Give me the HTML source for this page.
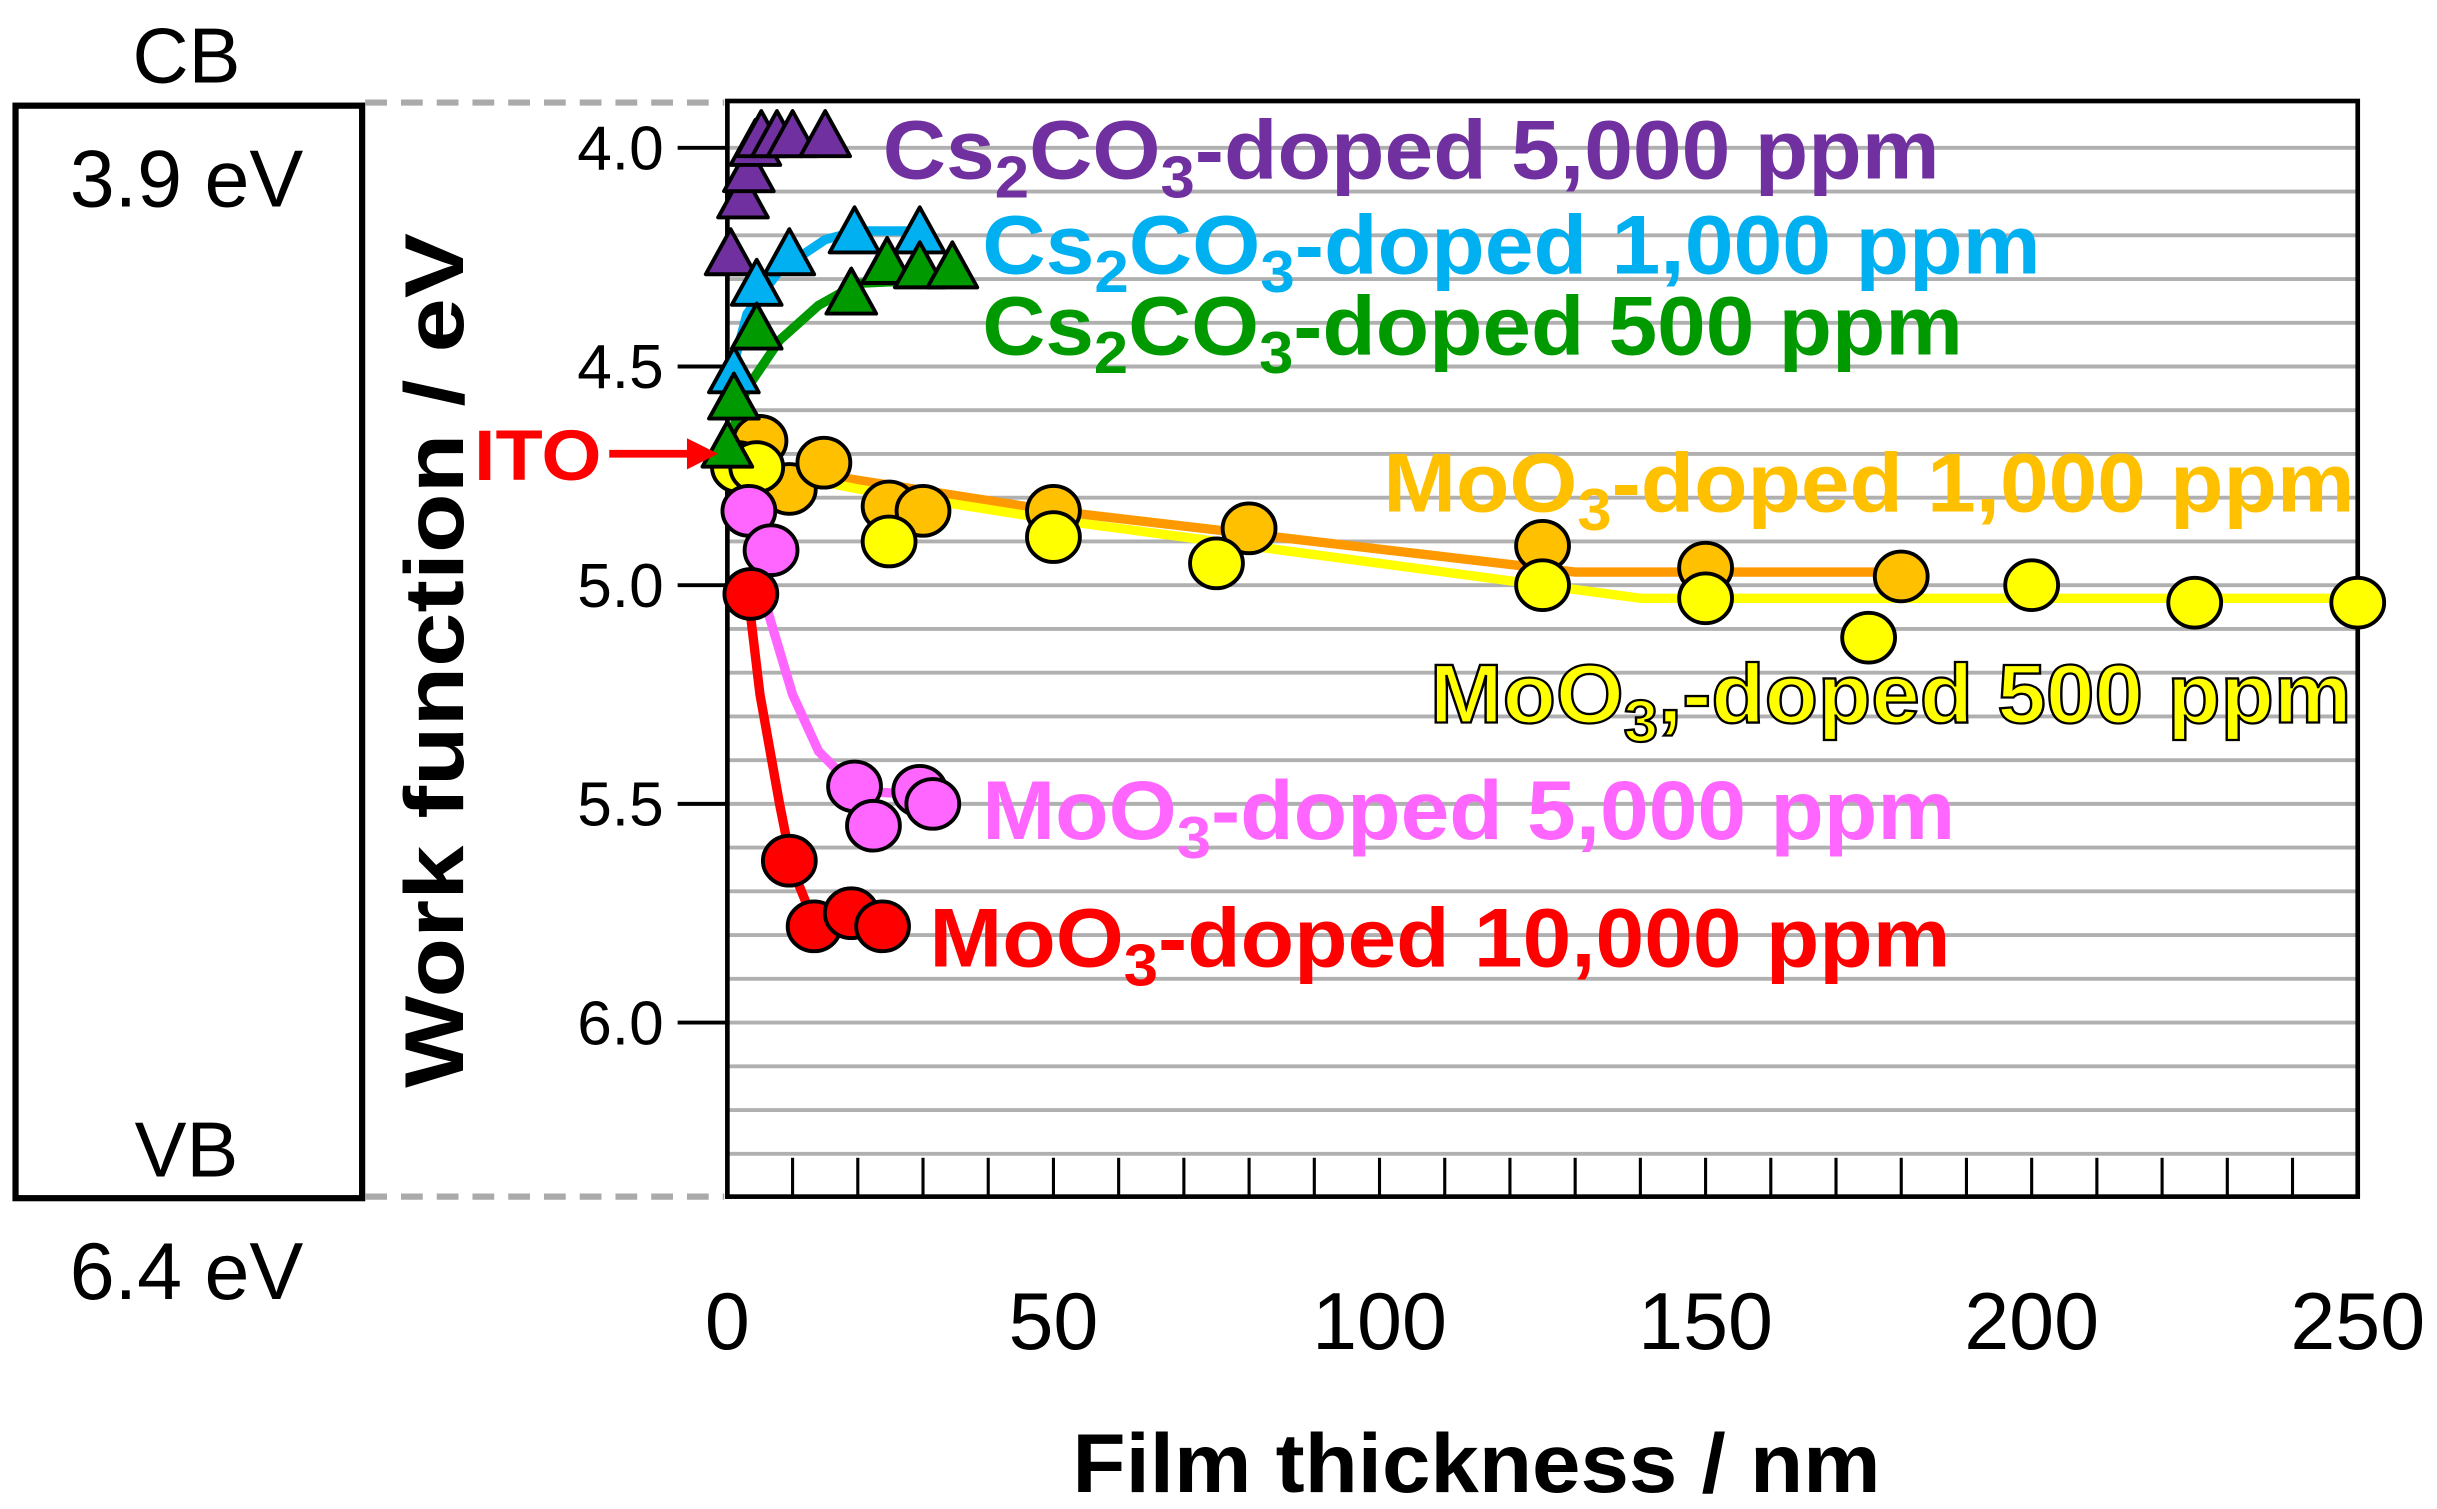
<!DOCTYPE html>
<html><head><meta charset="utf-8"><style>html,body{margin:0;padding:0;background:#fff}svg{display:block}</style></head>
<body>
<svg id="chart" width="2437" height="1509" viewBox="0 0 1568 971" preserveAspectRatio="none" xmlns="http://www.w3.org/2000/svg" font-family="Liberation Sans, Arial, sans-serif">
<rect width="1568" height="971" fill="#fff"/>
<g>
<rect x="10" y="68" width="223" height="703" fill="none" stroke="#000" stroke-width="4"/>
<text x="120" y="53" font-size="50" text-anchor="middle">CB</text>
<text x="120" y="133" font-size="52" text-anchor="middle">3.9 eV</text>
<text x="120" y="757" font-size="50" text-anchor="middle">VB</text>
<text x="120" y="836" font-size="52" text-anchor="middle">6.4 eV</text>
<line x1="235" y1="66" x2="466" y2="66" stroke="#aaa" stroke-width="4" stroke-dasharray="14,9"/>
<line x1="235" y1="770" x2="466" y2="770" stroke="#aaa" stroke-width="4" stroke-dasharray="14,9"/>
</g>
<g id="grid"></g>
<g id="axes"></g>
<g id="lines"></g>
<g id="marks"></g>
<g id="labels">
<text x="568" y="115" font-size="54" font-weight="bold" fill="#7030A0" textLength="680" lengthAdjust="spacingAndGlyphs">Cs<tspan font-size="38" dy="12">2</tspan><tspan dy="-12">CO</tspan><tspan font-size="38" dy="12">3</tspan><tspan dy="-12">-doped 5,000 ppm</tspan></text>
<text x="632" y="176" font-size="54" font-weight="bold" fill="#00B0F0" textLength="681" lengthAdjust="spacingAndGlyphs">Cs<tspan font-size="38" dy="12">2</tspan><tspan dy="-12">CO</tspan><tspan font-size="38" dy="12">3</tspan><tspan dy="-12">-doped 1,000 ppm</tspan></text>
<text x="632" y="228" font-size="54" font-weight="bold" fill="#009900" textLength="631" lengthAdjust="spacingAndGlyphs">Cs<tspan font-size="38" dy="12">2</tspan><tspan dy="-12">CO</tspan><tspan font-size="38" dy="12">3</tspan><tspan dy="-12">-doped 500 ppm</tspan></text>
<text x="890" y="329" font-size="54" font-weight="bold" fill="#FFC000" textLength="625" lengthAdjust="spacingAndGlyphs">MoO<tspan font-size="38" dy="12">3</tspan><tspan dy="-12">-doped 1,000 ppm</tspan></text>
<text x="920" y="465" font-size="54" font-weight="bold" fill="#FFFF00" stroke="#000" stroke-width="1.5" textLength="593" lengthAdjust="spacingAndGlyphs">MoO<tspan font-size="38" dy="12">3</tspan><tspan dy="-12">,-doped 500 ppm</tspan></text>
<text x="632" y="540" font-size="54" font-weight="bold" fill="#FF66FF" textLength="626" lengthAdjust="spacingAndGlyphs">MoO<tspan font-size="38" dy="12">3</tspan><tspan dy="-12">-doped 5,000 ppm</tspan></text>
<text x="598" y="622" font-size="54" font-weight="bold" fill="#FF0000" textLength="657" lengthAdjust="spacingAndGlyphs">MoO<tspan font-size="38" dy="12">3</tspan><tspan dy="-12">-doped 10,000 ppm</tspan></text>
<text x="305" y="309" font-size="46" font-weight="bold" fill="#FF0000" textLength="82" lengthAdjust="spacingAndGlyphs">ITO</text>
<line x1="392" y1="292" x2="445" y2="292" stroke="#FF0000" stroke-width="5"/>
<polygon points="442,282 462,292 442,302" fill="#FF0000"/>
<text x="950" y="960" font-size="54" font-weight="bold" text-anchor="middle" textLength="520" lengthAdjust="spacingAndGlyphs">Film thickness / nm</text>
<text transform="translate(298,425) rotate(-90)" font-size="54" font-weight="bold" text-anchor="middle" textLength="550" lengthAdjust="spacingAndGlyphs">Work function / eV</text>
</g>
</svg>
<script>
const xTicks = [0, 50, 100, 150, 200, 250];
const yTicks = [4.0, 4.5, 5.0, 5.5, 6.0];
const cs5000X = [0.5, 2.4, 3.3, 4.3, 5.2, 7.6, 10, 15];
const cs5000Y = [4.25, 4.12, 4.06, 4.0, 3.98, 3.98, 3.98, 3.98];
const cs1000X = [1, 4.5, 9.5, 19.5, 29.5];
const cs1000Y = [4.52, 4.32, 4.25, 4.2, 4.2];
const cs500X = [0, 1, 4.5, 19, 24.5, 29.5, 34.5];
const cs500Y = [4.69, 4.58, 4.42, 4.34, 4.27, 4.28, 4.28];
const mo1000X = [5, 9.5, 14.8, 24.8, 30, 50, 80, 125, 150, 180];
const mo1000Y = [4.67, 4.78, 4.72, 4.82, 4.83, 4.83, 4.87, 4.91, 4.96, 4.98];
const mo500X = [1.7, 4.5, 24.8, 50, 75, 125, 150, 175, 200, 225, 250];
const mo500Y = [4.73, 4.73, 4.9, 4.89, 4.95, 5.0, 5.03, 5.12, 5.0, 5.04, 5.04];
const mo5000X = [3.3, 6.7, 19.5, 22.4, 29.5, 31.5];
const mo5000Y = [4.83, 4.92, 5.46, 5.55, 5.47, 5.5];
const mo10000X = [3.6, 9.5, 13.3, 19, 23.8];
const mo10000Y = [5.02, 5.63, 5.78, 5.75, 5.78];
// fitted trend curves
const fitCs1000X = [0, 3, 8, 15, 20, 30];
const fitCs1000Y = [4.55, 4.38, 4.28, 4.21, 4.19, 4.19];
const fitCs500X = [0, 3, 8, 14, 20, 34];
const fitCs500Y = [4.68, 4.55, 4.44, 4.36, 4.31, 4.3];
const fitMo1000X = [0, 20, 50, 90, 130, 180];
const fitMo1000Y = [4.71, 4.76, 4.83, 4.9, 4.97, 4.97];
const fitMo500X = [0, 20, 50, 90, 140, 250];
const fitMo500Y = [4.72, 4.78, 4.85, 4.93, 5.03, 5.03];
const fitMo5000X = [3, 6, 10, 14, 20, 30];
const fitMo5000Y = [4.85, 5.05, 5.25, 5.38, 5.47, 5.48];
const fitMo10000X = [3, 5, 8, 10, 13, 24];
const fitMo10000Y = [5.0, 5.25, 5.5, 5.65, 5.76, 5.77];

const X0 = 468, X1 = 1517, Y0 = 65, Y1 = 770;
const xs = v => X0 + v / 250 * (X1 - X0);
const ys = v => Y0 + (v - 3.893) / (6.398 - 3.893) * (Y1 - Y0);
const NS = 'http://www.w3.org/2000/svg';
function mk(tag, attrs, parent) {
  const e = document.createElementNS(NS, tag);
  for (const k in attrs) e.setAttribute(k, attrs[k]);
  parent.appendChild(e);
  return e;
}
const grid = document.getElementById('grid');
for (let i = 1; i < 25; i++) {
  const v = 3.9 + i * 0.1;
  const l = mk('line', {x1: X0, x2: X1, y1: ys(v), y2: ys(v), stroke: '#b0b0b0', 'stroke-width': 2.5}, grid);
  
  
}
const axes = document.getElementById('axes');
const frame = mk('rect', {x: X0, y: Y0, width: X1 - X0, height: Y1 - Y0, fill: 'none', stroke: '#000', 'stroke-width': 3}, axes);


yTicks.forEach(v => {
  const t = mk('line', {x1: X0 - 32, x2: X0, y1: ys(v), y2: ys(v), stroke: '#000', 'stroke-width': 2.5}, axes);
  
  
  const tx = mk('text', {x: 427, y: ys(v) + 14, 'font-size': 40, 'text-anchor': 'end'}, axes);
  tx.textContent = v.toFixed(1);
  
  
});
for (let v = 10; v < 250; v += 10) {
  const t = mk('line', {x1: xs(v), x2: xs(v), y1: Y1, y2: Y1 - 25, stroke: '#000', 'stroke-width': 2}, axes);
  
  
}
xTicks.forEach(v => {
  const tx = mk('text', {x: xs(v), y: 868, 'font-size': 52, 'text-anchor': 'middle'}, axes);
  tx.textContent = v;
  
  
});
const linesG = document.getElementById('lines');
function curve(xa, ya, color, name) {
  const p = mk('polyline', {points: xa.map((x, i) => xs(x) + ',' + ys(ya[i])).join(' '), fill: 'none', stroke: color, 'stroke-width': 6, 'stroke-linejoin': 'round'}, linesG);
  
  
}
curve(fitMo1000X, fitMo1000Y, '#FF9900', 'fit-moo3-1000');
curve(fitMo500X, fitMo500Y, '#FFFF00', 'fit-moo3-500');
curve(fitMo5000X, fitMo5000Y, '#FF66FF', 'fit-moo3-5000');
curve(fitMo10000X, fitMo10000Y, '#FF0000', 'fit-moo3-10000');
curve(fitCs1000X, fitCs1000Y, '#00B0F0', 'fit-cs-1000');
curve(fitCs500X, fitCs500Y, '#009900', 'fit-cs-500');
const marks = document.getElementById('marks');
function circles(xa, ya, color, name) {
  xa.forEach((x, i) => {
    const c = mk('ellipse', {cx: xs(x), cy: ys(ya[i]), rx: 17, ry: 16, fill: color, stroke: '#000', 'stroke-width': 2.5}, marks);
    
    
  });
}
function tris(xa, ya, color, name) {
  xa.forEach((x, i) => {
    const cx = xs(x), cy = ys(ya[i]);
    const t = mk('polygon', {points: `${cx},${cy - 18} ${cx - 16},${cy + 11} ${cx + 16},${cy + 11}`, fill: color, stroke: '#000', 'stroke-width': 2.5, 'stroke-linejoin': 'round'}, marks);
    
    
  });
}
circles(mo1000X, mo1000Y, '#FFC000', 'point-moo3-1000');
circles(mo500X, mo500Y, '#FFFF00', 'point-moo3-500');
circles(mo5000X, mo5000Y, '#FF66FF', 'point-moo3-5000');
circles(mo10000X, mo10000Y, '#FF0000', 'point-moo3-10000');
tris(cs5000X, cs5000Y, '#7030A0', 'point-cs-5000');
tris(cs1000X, cs1000Y, '#00B0F0', 'point-cs-1000');
tris(cs500X, cs500Y, '#009900', 'point-cs-500');
</script>
</body></html>
